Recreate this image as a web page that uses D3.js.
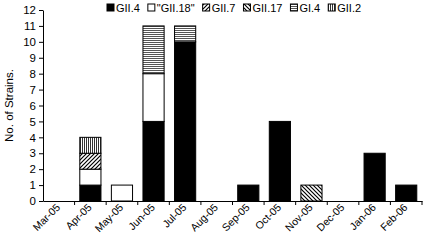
<!DOCTYPE html>
<html>
<head>
<meta charset="utf-8">
<script src="https://cdn.jsdelivr.net/npm/d3@7"></script>
<style>
  body { margin: 0; background: #fff; }
  text { font-family: "Liberation Sans", Arial, sans-serif; fill: #000; }
</style>
</head>
<body>
<div id="chart"></div>
<script>
// months on the x axis
const months = ["Mar-05", "Apr-05", "May-05", "Jun-05", "Jul-05", "Aug-05",
                "Sep-05", "Oct-05", "Nov-05", "Dec-05", "Jan-06", "Feb-06"];

// genotypes (stack order, bottom to top)
const genotypes = ["GII.4", "\"GII.18\"", "GII.7", "GII.17", "GI.4", "GII.2"];

// strain counts per genotype, one value per month
const gii4  = [0, 1, 0, 5, 10, 0, 1, 5, 0, 0, 3, 1];
const gii18 = [0, 1, 1, 3, 0, 0, 0, 0, 0, 0, 0, 0];
const gii7  = [0, 1, 0, 0, 0, 0, 0, 0, 0, 0, 0, 0];
const gii17 = [0, 0, 0, 0, 0, 0, 0, 0, 1, 0, 0, 0];
const gi4   = [0, 0, 0, 3, 1, 0, 0, 0, 0, 0, 0, 0];
const gii2  = [0, 1, 0, 0, 0, 0, 0, 0, 0, 0, 0, 0];

const yTicks = d3.range(0, 13);

const series = [gii4, gii18, gii7, gii17, gi4, gii2];

//build a table for d3.stack
const data = months.map((m, i) => {
    let row = { month: m };
    genotypes.forEach((g, j) => row[g] = series[j][i]);
    return row;
});

const width = 425,
      height = 251,
      margin = ({ top: 10, right: 3, bottom: 50, left: 43 });

let svg = d3.select("#chart")
    .append("svg")
    .attr("width", width)
    .attr("height", height);

//patterns for the fills
let defs = svg.append("defs");

function pattern(id, size, draw) {
    let p = defs.append("pattern")
        .attr("id", id)
        .attr("patternUnits", "userSpaceOnUse")
        .attr("width", size)
        .attr("height", size);
    p.append("rect").attr("width", size).attr("height", size).attr("fill", "#fff");
    draw(p);
}

pattern("p-up", 4, p => {
    p.append("path").attr("d", "M-1,1 l2,-2 M0,4 l4,-4 M3,5 l2,-2")
        .attr("stroke", "#000").attr("stroke-width", 1.2);
});
pattern("p-down", 4, p => {
    p.append("path").attr("d", "M-1,3 l2,2 M0,0 l4,4 M3,-1 l2,2")
        .attr("stroke", "#000").attr("stroke-width", 1.2);
});
pattern("p-horiz", 2, p => {
    p.append("rect").attr("width", 2).attr("height", 1).attr("fill", "#555");
});
pattern("p-vert", 2, p => {
    p.append("rect").attr("width", 1).attr("height", 2).attr("fill", "#333");
});

const fills = ["#000", "#fff", "url(#p-up)", "url(#p-down)", "url(#p-horiz)", "url(#p-vert)"];

let x = d3.scaleBand()
    .domain(months)
    .range([margin.left, width - margin.right])
    .paddingInner(0.33)
    .paddingOuter(0.165);

let y = d3.scaleLinear()
    .domain([0, 12])
    .range([height - margin.bottom, margin.top]);

let stacked = d3.stack().keys(genotypes)(data);

//bars
svg.selectAll(".layer")
    .data(stacked)
    .join("g")
    .attr("class", "layer")
    .attr("fill", (d, i) => fills[i])
    .selectAll("rect")
    .data(d => d.filter(s => s[1] > s[0]))
    .join("rect")
    .attr("x", d => x(d.data.month))
    .attr("width", x.bandwidth())
    .attr("y", d => y(d[1]))
    .attr("height", d => y(d[0]) - y(d[1]))
    .attr("stroke", "#000")
    .attr("stroke-width", 1);

//y axis
let yAxis = svg.append("g")
    .attr("transform", `translate(${margin.left},0)`)
    .call(d3.axisLeft(y).tickValues(yTicks).tickSize(4).tickSizeOuter(0).tickPadding(3));
yAxis.selectAll("text").style("font-size", "11.5px").attr("font-family", "Liberation Sans, Arial, sans-serif");

//x axis: labels at month centres, ticks between months
let xAxis = svg.append("g")
    .attr("transform", `translate(0,${y(0)})`)
    .call(d3.axisBottom(x).tickSize(0).tickSizeOuter(0).tickPadding(0));
xAxis.selectAll("text")
    .style("font-size", "10.5px")
    .attr("font-family", "Liberation Sans, Arial, sans-serif")
    .attr("text-anchor", "end")
    .attr("dy", 0)
    .attr("transform", "translate(2,7) rotate(-45)");

let edge = d3.scaleLinear().domain([0, months.length]).range(x.range());
xAxis.append("g")
    .selectAll("line")
    .data(d3.range(1, months.length + 1))
    .join("line")
    .attr("x1", d => edge(d)).attr("x2", d => edge(d))
    .attr("y1", 0).attr("y2", 4)
    .attr("stroke", "#000");

svg.selectAll(".domain").attr("stroke", "#000");

//y axis title
svg.append("text")
    .attr("transform", `translate(13,${(y(0) + y(12)) / 2}) rotate(-90)`)
    .attr("text-anchor", "middle")
    .style("font-size", "11.5px")
    .text("No. of Strains.");

//legend along the top
let lx = 107;
genotypes.forEach((g, i) => {
    svg.append("rect")
        .attr("x", lx).attr("y", 4)
        .attr("width", 7).attr("height", 7)
        .attr("fill", fills[i])
        .attr("stroke", "#000").attr("stroke-width", 1);
    let t = svg.append("text")
        .attr("x", lx + 9).attr("y", 12)
        .style("font-size", "11px")
        .text(g);
    lx += 9 + t.node().getComputedTextLength() + 8;
});
</script>
</body>
</html>
